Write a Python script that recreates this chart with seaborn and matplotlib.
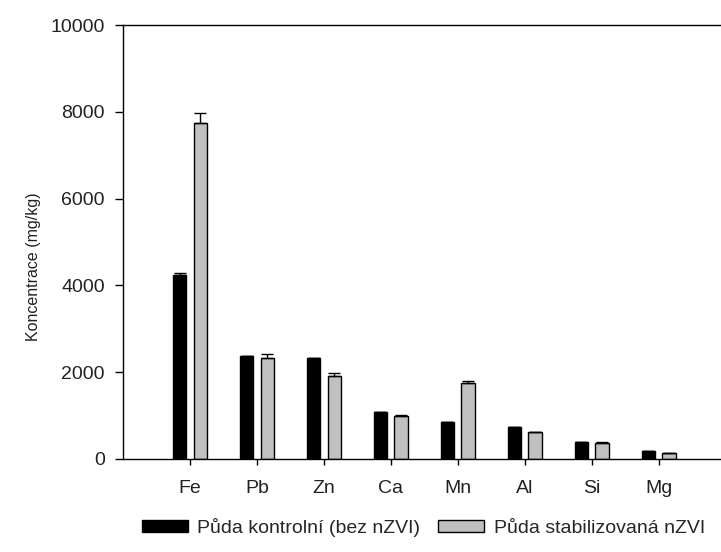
import matplotlib
matplotlib.use("Agg")
import matplotlib.pyplot as plt
import seaborn as sns
import pandas as pd
import numpy as np

elements = ["Fe", "Pb", "Zn", "Ca", "Mn", "Al", "Si", "Mg"]
control = [4240, 2373, 2320, 1090, 860, 744, 385, 191]
control_err = [50, 0, 0, 0, 0, 0, 0, 0]
stabil = [7735, 2327, 1919, 990, 1744, 622, 375, 145]
stabil_err = [230, 90, 70, 30, 60, 0, 20, 0]
series = ["Půda kontrolní (bez nZVI)", "Půda stabilizovaná nZVI"]
yticks = [0, 2000, 4000, 6000, 8000, 10000]

df = pd.DataFrame({
    "element": elements * 2,
    "value": control + stabil,
    "series": [series[0]] * len(elements) + [series[1]] * len(elements),
})
errs = [control_err, stabil_err]

sns.set_theme(style="white")
plt.rcParams["font.family"] = ["Liberation Sans", "DejaVu Sans"]

fig = plt.figure(figsize=(7.21, 5.52), dpi=100)
ax = fig.add_axes([0.1706, 0.1685, 0.8294, 0.7862])

sns.barplot(data=df, x="element", y="value", hue="series", order=elements,
            hue_order=series, palette=["black", "#c0c0c0"], edgecolor="black",
            linewidth=1.0, width=0.62, gap=0.35, errorbar=None, ax=ax,
            legend=True)

for cont, err in zip(ax.containers, errs):
    xs = [p.get_x() + p.get_width() / 2 for p in cont.patches]
    hs = [p.get_height() for p in cont.patches]
    ax.errorbar(xs, hs, yerr=[np.zeros(len(err)), err], fmt="none",
                ecolor="black", elinewidth=1.0, capsize=4.5, capthick=1.0)

ax.set_ylim(0, 10000)
ax.set_xlim(-1, 7.93)
ax.set_yticks(yticks)
ax.set_yticklabels([str(t) for t in yticks], fontsize=14, color="#222222")
ax.set_xticks(range(len(elements)))
ax.set_xticklabels(elements, fontsize=14, color="#222222")
ax.set_xlabel("")
ax.set_ylabel("Koncentrace (mg/kg)", fontsize=11.5, color="#222222")
ax.yaxis.set_label_coords(-0.137, 0.442)

for s in ["left", "bottom", "top"]:
    ax.spines[s].set_visible(True)
    ax.spines[s].set_color("black")
    ax.spines[s].set_linewidth(1.0)
ax.spines["right"].set_visible(False)

ax.tick_params(axis="y", direction="out", length=6, width=1.0, color="black",
               pad=7, left=True)
ax.tick_params(axis="x", direction="out", length=4, width=1.0, color="black",
               pad=11, bottom=True)

handles, labels = ax.get_legend_handles_labels()
ax.get_legend().remove()
fig.legend(handles, labels, loc="center", bbox_to_anchor=(0.587, 0.045),
           ncol=2, frameon=False, fontsize=14, handlelength=2.37,
           handleheight=0.62, handletextpad=0.5, columnspacing=0.9)

fig.savefig("out.png", dpi=100)
